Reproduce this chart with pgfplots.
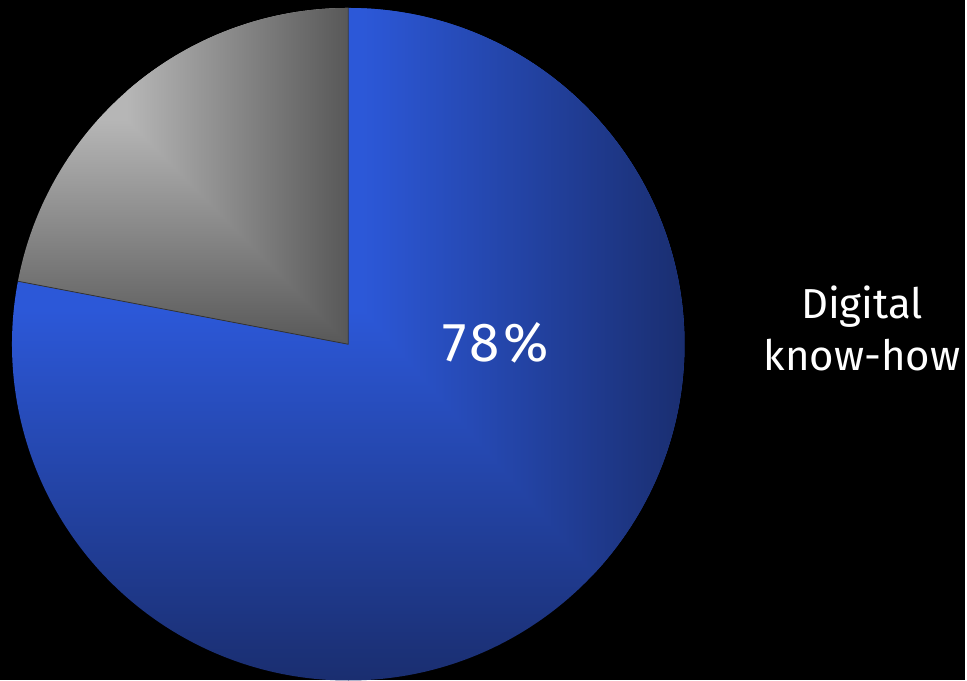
\documentclass[border=0pt]{standalone}
\usepackage{pgfplots}
\pgfplotsset{compat=1.18}
\usepackage{fontspec}
\setmainfont{Fira Sans}
\newfontfamily\widefont[LetterSpace=7]{Fira Sans}
\definecolor{blueL}{HTML}{2C58D8}
\definecolor{blueD}{HTML}{1A2E70}
\definecolor{grayL}{HTML}{B6B6B6}
\definecolor{grayD}{HTML}{585858}
\begin{document}
\begin{tikzpicture}
% slice values (percent)
\pgfmathsetmacro{\vDigital}{78}
\pgfmathsetmacro{\vOther}{22}
\pgfmathsetmacro{\angD}{\vDigital/(\vDigital+\vOther)*360}
\pgfmathsetmacro{\endD}{90-\angD}
\begin{axis}[x=0.5pt,y=0.5pt,xmin=0,xmax=967,ymin=0,ymax=681,
  hide axis,clip=false]
\addplot[draw=none,forget plot] coordinates {(0,0) (967,681)};
\fill[black] (axis cs:0,0) rectangle (axis cs:967,681);
% ---- blue slice (78 %)
\begin{scope}
\clip (axis cs:349,336) -- ++(90:168.5pt) arc[start angle=90,end angle=\endD,radius=168.5pt] -- cycle;
\fill[blueL] (axis cs:0,371) rectangle (axis cs:1000,700);
\shade[top color=blueL,bottom color=blueD] (axis cs:0,371) rectangle (axis cs:1000,0);
\fill[blueD] (axis cs:0,0) rectangle (axis cs:1000,-50);
\begin{scope}
\clip (axis cs:363,371) -- (axis cs:1011,-371) -- (axis cs:1100,-371) -- (axis cs:1100,800) -- (axis cs:363,800) -- cycle;
\shade[left color=blueL,right color=blueD] (axis cs:363,-50) rectangle (axis cs:687,800);
\fill[blueD] (axis cs:687,-50) rectangle (axis cs:1100,800);
\end{scope}
\end{scope}
% ---- gray slice (22 %)
\begin{scope}
\clip (axis cs:349,336) -- ++(\endD:168.5pt) arc[start angle=\endD+360,end angle=90,radius=168.5pt] -- cycle;
\fill[grayL] (axis cs:0,561) rectangle (axis cs:1000,700);
\shade[top color=grayL,bottom color=grayD] (axis cs:0,561) rectangle (axis cs:1000,336);
\fill[grayD] (axis cs:0,336) rectangle (axis cs:1000,250);
\begin{scope}
\clip (axis cs:127,561) -- (axis cs:571,111) -- (axis cs:1100,111) -- (axis cs:1100,800) -- (axis cs:127,800) -- cycle;
\shade[left color=grayL,right color=grayD] (axis cs:127,100) rectangle (axis cs:349,800);
\fill[grayD] (axis cs:349,100) rectangle (axis cs:1100,800);
\end{scope}
\end{scope}
\draw[color=black!60!gray,line width=0.4pt] (axis cs:349,336) ++(\endD:168.5pt) -- (axis cs:349,336) -- ++(90:168.5pt);
% ---- labels
\node[white,font=\widefont\fontsize{27.5}{30}\selectfont] at (axis cs:497,337) {78\%};
\node[white,align=center,font=\fontsize{21}{26}\selectfont] at (axis cs:864,352) {Digital\\know-how};
\end{axis}
\end{tikzpicture}
\end{document}
